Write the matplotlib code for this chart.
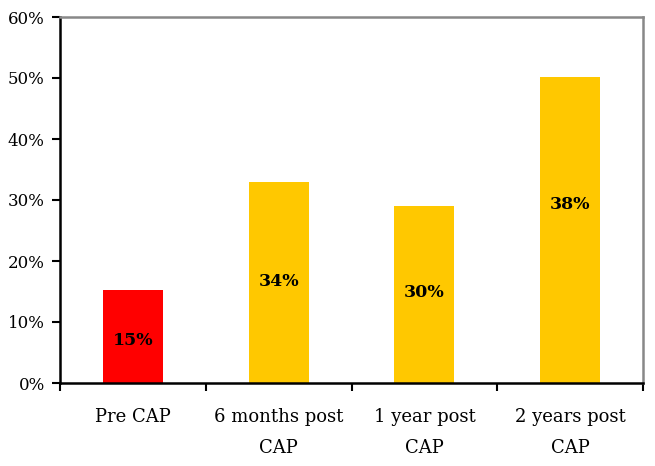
import matplotlib
matplotlib.use("Agg")
import matplotlib.pyplot as plt
from matplotlib.ticker import PercentFormatter, FixedLocator

# data
categories = ["Pre CAP", "6 months post\nCAP", "1 year post\nCAP", "2 years post\nCAP"]
heights = [15.2, 33.0, 29.0, 50.2]
labels = ["15%", "34%", "30%", "38%"]
label_y = [7.0, 16.6, 14.8, 29.2]
colors = ["#FF0000", "#FFC800", "#FFC800", "#FFC800"]

plt.rcParams["font.family"] = ["DejaVu Serif"]

fig = plt.figure(figsize=(6.55, 4.66), dpi=100)
ax = fig.add_axes([60 / 655, 1 - 383 / 466, 583 / 655, 366 / 466])

x = range(len(categories))
bars = ax.bar(x, heights, width=0.41, color=colors)
for b, lab, ly in zip(bars, labels, label_y):
    ax.text(b.get_x() + b.get_width() / 2, ly, lab,
            ha="center", va="center", fontsize=12.5, fontweight="bold",
            color="black")

ax.set_xlim(-0.5, 3.5)
ax.set_ylim(0, 60)
ax.set_yticks(range(0, 61, 10))
ax.yaxis.set_major_formatter(PercentFormatter(decimals=0))
ax.set_xticks(list(x))
ax.set_xticklabels(categories, fontsize=13, linespacing=1.95)
ax.xaxis.set_minor_locator(FixedLocator([-0.5, 0.5, 1.5, 2.5, 3.5]))
ax.tick_params(axis="x", which="major", length=0, pad=18)
ax.tick_params(axis="x", which="minor", length=6, width=1.5, direction="out")
ax.tick_params(axis="y", length=6, width=1.5, direction="out", labelsize=12, pad=5)

for s in ["left", "bottom"]:
    ax.spines[s].set_linewidth(1.8)
    ax.spines[s].set_color("black")
for s in ["top", "right"]:
    ax.spines[s].set_linewidth(1.8)
    ax.spines[s].set_color("#888888")

fig.savefig("out.png", dpi=100)
